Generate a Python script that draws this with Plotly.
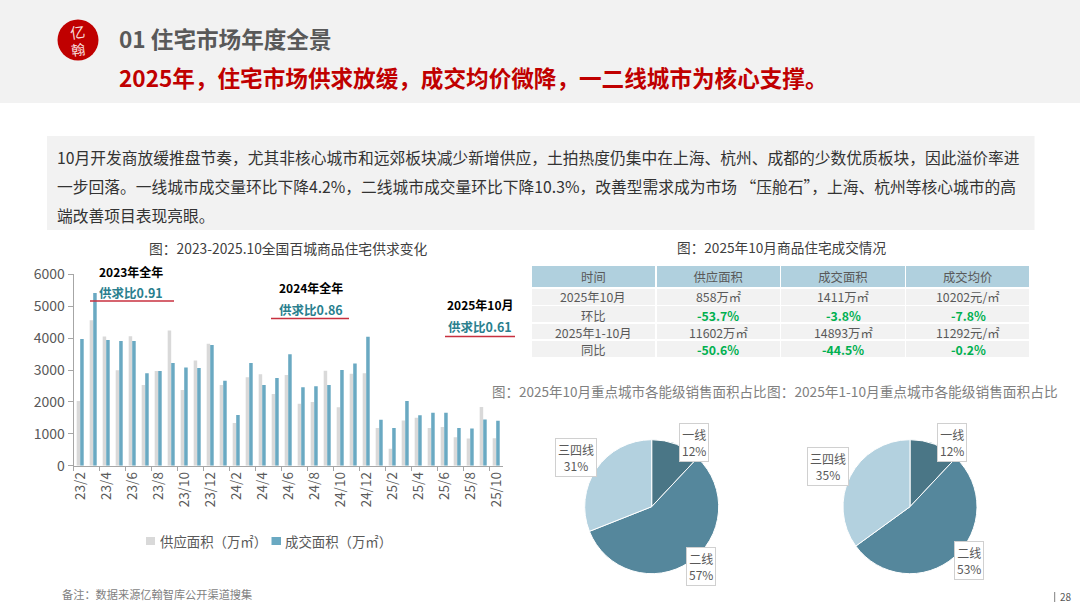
import plotly.graph_objects as go

W, H = 1080, 608
FONT = 'Noto Sans CJK SC'
GREY_BG = '#f2f2f2'
RED = '#c00000'
TEAL = '#2a7f8e'
LINE_RED = '#c8303f'
GREEN = '#00b050'
DARK = '#595959'
MID = '#808080'
SUPPLY_COLOR = '#d9d9d9'
DEAL_COLOR = '#6aa9c2'

months = ['23/2', '23/3', '23/4', '23/5', '23/6', '23/7', '23/8', '23/9', '23/10', '23/11', '23/12',
          '24/1', '24/2', '24/3', '24/4', '24/5', '24/6', '24/7', '24/8', '24/9', '24/10', '24/11', '24/12',
          '25/1', '25/2', '25/3', '25/4', '25/5', '25/6', '25/7', '25/8', '25/9', '25/10']
supply = [2030, 4560, 4050, 2990, 4060, 2530, 2970, 4240, 2370, 3300, 3820,
          2530, 1340, 2770, 2870, 2250, 2840, 1940, 2000, 2980, 1830, 2880, 2900,
          1180, 530, 1420, 1500, 1180, 1210, 890, 850, 1840, 858]
deals = [3970, 5410, 3940, 3910, 3910, 2900, 2970, 3220, 3080, 3060, 3780,
         2660, 1590, 3220, 2530, 2750, 3490, 2460, 2490, 2530, 3000, 3200, 4040,
         1440, 1180, 2030, 1580, 1660, 1660, 1180, 1170, 1450, 1411]

table_head = ['时间', '供应面积', '成交面积', '成交均价']
col_time = ['2025年10月', '环比', '2025年1-10月', '同比']
col_supply = ['858万㎡', '-53.7%', '11602万㎡', '-50.6%']
col_deal = ['1411万㎡', '-3.8%', '14893万㎡', '-44.5%']
col_price = ['10202元/㎡', '-7.8%', '11292元/㎡', '-0.2%']

tiers = ['一线', '二线', '三四线']
share_oct = [12, 57, 31]
share_ytd = [12, 53, 35]
tier_colors = ['#4a7686', '#55879c', '#b3d1df']

body_lines = [
    '10月开发商放缓推盘节奏，尤其非核心城市和远郊板块减少新增供应，土拍热度仍集中在上海、杭州、成都的少数优质板块，因此溢价率进',
    '一步回落。一线城市成交量环比下降4.2%，二线城市成交量环比下降10.3%，改善型需求成为市场 “压舱石”，上海、杭州等核心城市的高',
    '端改善项目表现亮眼。',
]


def px(x):
    return x / W


def py(y):
    return 1 - y / H


def label(x, y, text, size=13, color=DARK, anchor='left', **kw):
    return dict(x=px(x), y=py(y), xref='paper', yref='paper', text=text, showarrow=False,
                xanchor=anchor, yanchor='middle', font=dict(size=size, color=color, family=FONT), **kw)


def box(x0, y0, x1, y1, fill, layer='below'):
    return dict(type='rect', xref='paper', yref='paper', x0=px(x0), x1=px(x1), y0=py(y0), y1=py(y1),
                fillcolor=fill, line=dict(width=0), layer=layer)


def rule(x0, x1, y, color=LINE_RED, width=1.6):
    return dict(type='line', xref='paper', yref='paper', x0=px(x0), x1=px(x1), y0=py(y), y1=py(y),
                line=dict(color=color, width=width))


fig = go.Figure()

# bars
fig.add_trace(go.Bar(x=months, y=supply, name='供应面积（万㎡）', marker=dict(color=SUPPLY_COLOR, line=dict(width=0))))
fig.add_trace(go.Bar(x=months, y=deals, name='成交面积（万㎡）', marker=dict(color=DEAL_COLOR, line=dict(width=0))))

# table grid; go.Table clips text in rows this low, so body text is added as annotations below
blank = [''] * len(col_time)
fig.add_trace(go.Table(
    domain=dict(x=[px(531), px(1030)], y=[py(358), py(265)]),
    columnwidth=[1, 1, 1, 1],
    header=dict(values=table_head, height=23, align='center', fill_color='#b0d0de',
                line=dict(color='white', width=1.5), font=dict(size=12.3, color=DARK, family=FONT)),
    cells=dict(values=[blank, blank, blank, blank], height=17.4, align='center',
               fill_color=GREY_BG, line=dict(color='white', width=1.5))
))

# pies
for cx, shares in ((651.7, share_oct), (910, share_ytd)):
    fig.add_trace(go.Pie(
        labels=tiers, values=shares, sort=False, direction='clockwise', rotation=0,
        textinfo='none', showlegend=False,
        marker=dict(colors=tier_colors, line=dict(color='white', width=1)),
        domain=dict(x=[px(cx - 67), px(cx + 67)], y=[py(573.7), py(439.7)])
    ))

fig.update_layout(
    width=W, height=H,
    margin=dict(l=0, r=0, t=0, b=0, autoexpand=False),
    paper_bgcolor='white', plot_bgcolor='white',
    font=dict(family=FONT, color=DARK),
    showlegend=False,
    barmode='group', bargap=0.46, bargroupgap=0,
    xaxis=dict(domain=[px(73.7), px(502.7)], type='category', tickmode='linear', dtick=2, tick0=0,
               tickson='boundaries', ticks='outside', ticklen=4, tickcolor='#a6a6a6',
               tickangle=-90, tickfont=dict(size=13.5, color=DARK), linecolor='#a6a6a6', showgrid=False),
    yaxis=dict(domain=[py(465.7), py(274.3)], range=[0, 6000], dtick=1000, ticks='outside', ticklen=5,
               tickcolor='#a6a6a6', tickfont=dict(size=14, color=DARK), linecolor='#a6a6a6',
               showline=True, showgrid=False, zeroline=False),
)

shapes = [
    box(0, 0, 1080, 103, GREY_BG),
    box(47, 136, 1034.5, 230, GREY_BG),
    dict(type='circle', xref='paper', yref='paper', x0=px(57.5), x1=px(98.5), y0=py(60.5), y1=py(19.5),
         fillcolor=RED, line=dict(width=0)),
    rule(90, 174, 301),
    rule(271, 349, 318.5),
    rule(445, 515, 336.5),
    box(146, 537, 155, 545, SUPPLY_COLOR),
    box(271.5, 537, 281, 545, DEAL_COLOR),
    dict(type='line', xref='paper', yref='paper', x0=px(1054.7), x1=px(1054.7), y0=py(592), y1=py(602),
         line=dict(color='#7f7f7f', width=1)),
]

annotations = [
    label(78, 31, '亿', size=15, color='#f7dcdc', anchor='center', textangle=-8),
    label(78, 49, '翰', size=14, color='#f7dcdc', anchor='center', textangle=-8),
    label(117, 38.5, '<b>01 住宅市场年度全景</b>', size=22.6, color=DARK),
    label(117, 78, '<b>2025年，住宅市场供求放缓，成交均价微降，一二线城市为核心支撑。</b>', size=22.6, color=RED),
    label(288.5, 248, '图：2023-2025.10全国百城商品住宅供求变化', size=13.8, color='#404040', anchor='center'),
    label(781.5, 247, '图：2025年10月商品住宅成交情况', size=13.65, color='#404040', anchor='center'),
    label(490, 391, '图：2025年10月重点城市各能级销售面积占比', size=13.5, color=MID),
    label(765, 391, '图：2025年1-10月重点城市各能级销售面积占比', size=13.7, color=MID),
    label(131, 271, '<b>2023年全年</b>', size=12, color='black', anchor='center'),
    label(130.5, 293, '<b>供求比0.91</b>', size=12.5, color=TEAL, anchor='center'),
    label(311, 287, '<b>2024年全年</b>', size=12, color='black', anchor='center'),
    label(310.5, 310, '<b>供求比0.86</b>', size=12.5, color=TEAL, anchor='center'),
    label(480, 304, '<b>2025年10月</b>', size=12, color='black', anchor='center'),
    label(479.5, 326, '<b>供求比0.61</b>', size=12.5, color=TEAL, anchor='center'),
    label(158, 541, '供应面积（万㎡）', size=13.4),
    label(283, 541, '成交面积（万㎡）', size=13.4),
    label(60, 594, '备注：数据来源亿翰智库公开渠道搜集', size=11.2, color='#7f7f7f'),
    label(1058, 596.5, '28', size=10, color=DARK),
]
for y, line in zip((157, 186, 215), body_lines):
    annotations.append(label(55, y, line, size=15.75, color='#333333'))

# table body, every second row is a green bold percentage
row_centers = [297.5, 315.5, 332.5, 350]
for cx, col in zip((593, 718, 843, 968), (col_time, col_supply, col_deal, col_price)):
    for i, (row_y, v) in enumerate(zip(row_centers, col)):
        if i % 2 and col is not col_time:
            annotations.append(label(cx, row_y, f'<b>{v}</b>', size=12.3, color=GREEN, anchor='center'))
        else:
            annotations.append(label(cx, row_y, v, size=12.3, color=DARK, anchor='center'))

# boxed pie labels, order 一线 / 二线 / 三四线
label_pos = {
    'oct': [(693.5, 443), (701, 566), (576, 457.7)],
    'ytd': [(952, 443), (968.7, 560.7), (828.3, 466)],
}
for key, shares in (('oct', share_oct), ('ytd', share_ytd)):
    for (x, y), tier, v in zip(label_pos[key], tiers, shares):
        annotations.append(label(x, y, f'{tier}<br>{v}%', size=12, color=DARK, anchor='center',
                                 bgcolor='white', bordercolor='#d0d0d0', borderwidth=1, borderpad=2,
                                 align='center'))

fig.update_layout(shapes=shapes, annotations=annotations)
fig.write_html('out.html', config=dict(displayModeBar=False), post_script="document.body.style.margin = '0';")
